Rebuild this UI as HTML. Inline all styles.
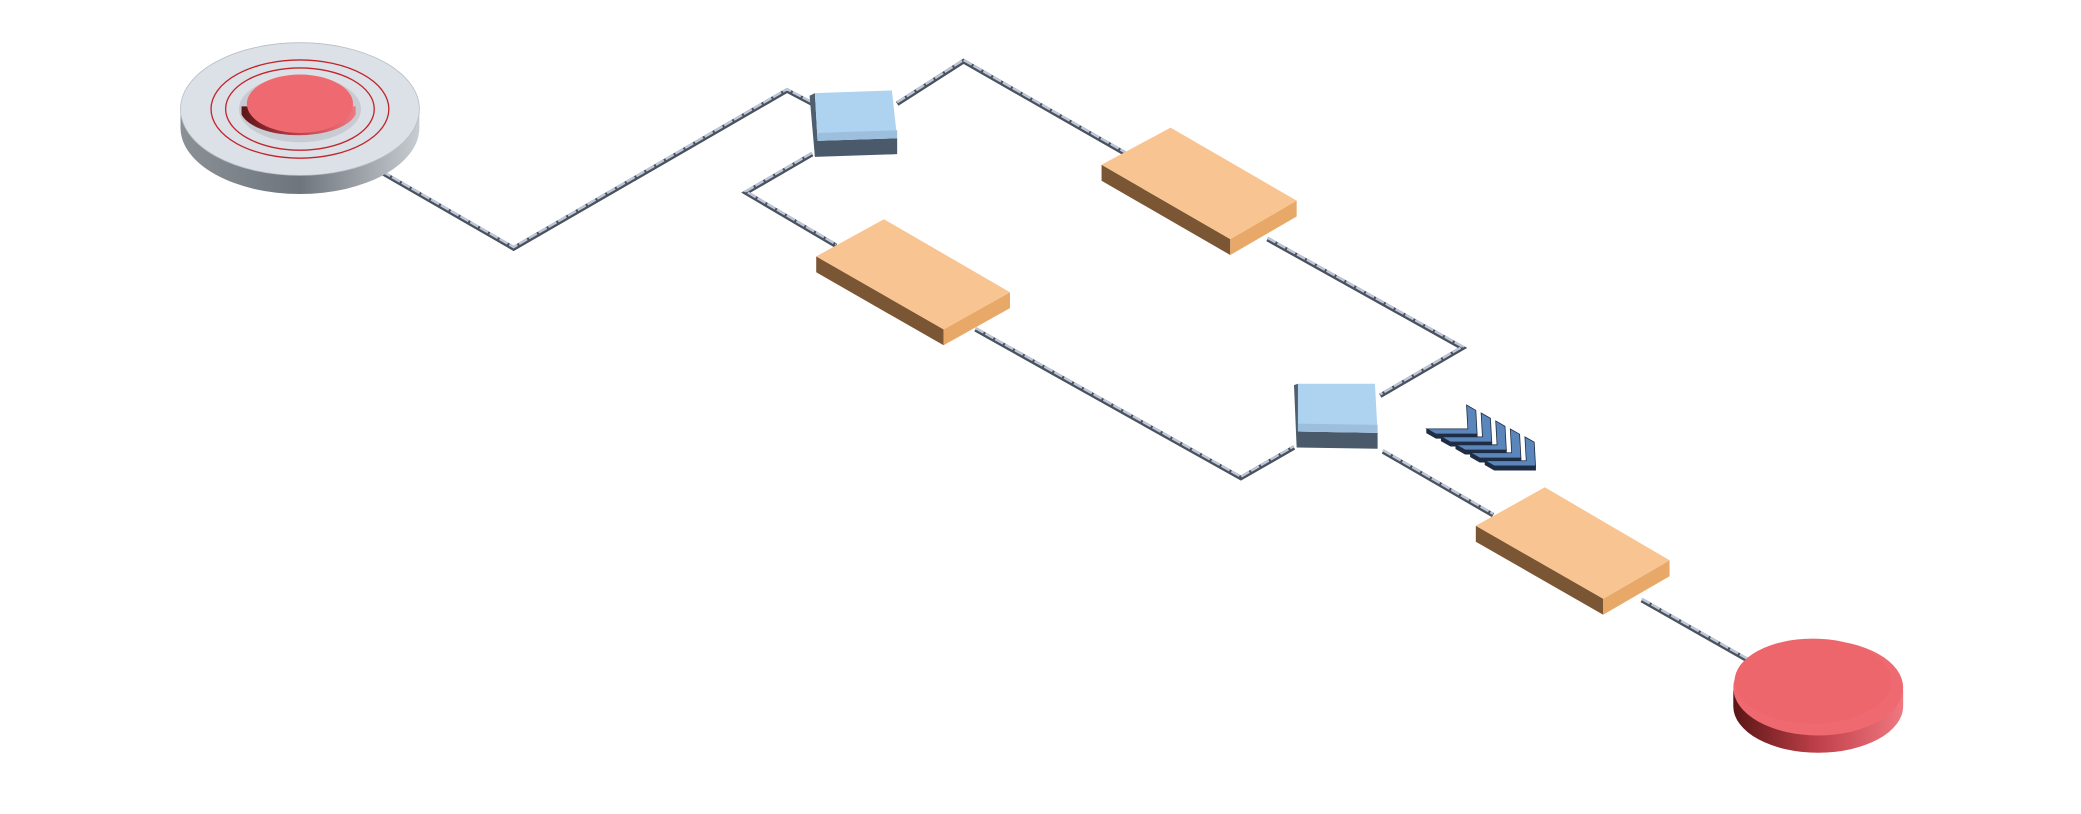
<!DOCTYPE html>
<html><head><meta charset="utf-8"><style>html,body{margin:0;padding:0;background:#fff;width:2081px;height:814px;overflow:hidden}</style></head>
<body>
<svg width="2081" height="814" viewBox="0 0 1568 613" xmlns="http://www.w3.org/2000/svg">
<defs>
<linearGradient id="gside" x1="0" x2="1"><stop offset="0" stop-color="#8a9096"/><stop offset="0.5" stop-color="#6e757c"/><stop offset="1" stop-color="#c8cdd2"/></linearGradient>
<linearGradient id="rside" x1="0" x2="1"><stop offset="0" stop-color="#5a1515"/><stop offset="0.5" stop-color="#c0404a"/><stop offset="1" stop-color="#f07880"/></linearGradient>
</defs>
<g fill="none" stroke-linejoin="miter">
<g stroke="#4a525e" stroke-width="3.5">
<polyline points="288,130 387,187 593,68 612,78"/>
<polyline points="676,78 726,46 852,118"/>
<polyline points="612,116 562,145 630,185"/>
<polyline points="735,248 935,360 975,337"/>
<polyline points="955,180 1102,262 1040,298"/>
<polyline points="1042,340 1125,388"/>
<polyline points="1237,452 1318,498"/>
</g>
<g stroke="#bcc6d8" stroke-width="1.8" stroke-dasharray="7 1.5">
<polyline points="288,129 387,186 593,67 612,77"/>
<polyline points="676,77 726,45 852,117"/>
<polyline points="612,115 562,144 630,184"/>
<polyline points="735,247 935,359 975,336"/>
<polyline points="955,179 1102,261 1040,297"/>
<polyline points="1042,339 1125,387"/>
<polyline points="1237,451 1318,497"/>
</g>
</g>
<!-- start event -->
<path d="M136,82 L136,96 A90,50 0 0 0 316,96 L316,82 Z" fill="url(#gside)"/>
<ellipse cx="226" cy="82" rx="90" ry="50" fill="#dce1e7" stroke="#b8bec5" stroke-width="0.6"/>
<ellipse cx="226" cy="82" rx="67" ry="37" fill="none" stroke="#c0262c" stroke-width="1"/>
<ellipse cx="226" cy="82" rx="56" ry="31" fill="none" stroke="#c0262c" stroke-width="1"/>
<ellipse cx="226" cy="82" rx="46" ry="25" fill="#c8ccd2"/>
<path d="M182,80 L182,86 A44,20 0 0 0 268,86 L268,80 Z" fill="url(#rside)"/>
<ellipse cx="226" cy="78" rx="40" ry="22" fill="#ee6a70"/>
<!-- gateway 1 -->
<polygon points="610,72 614,70 616,106 614,118" fill="#4e5f70"/>
<polygon points="614,106 676,104 676,116 614,118" fill="#4a5a6a"/>
<polygon points="614,70 672,68 676,104 616,106" fill="#aed3f0"/>
<polygon points="616,100 676,98 676,104 616,106" fill="#9bbfdc"/>
<!-- gateway 2 -->
<polygon points="975,290 978,289 978,325 977,337" fill="#4e5f70"/>
<polygon points="977,325 1038,326 1038,338 977,337" fill="#4a5a6a"/>
<polygon points="978,289 1036,289 1038,326 978,325" fill="#aed3f0"/>
<polygon points="978,319 1038,320 1038,326 978,325" fill="#9bbfdc"/>
<!-- tasks -->
<g id="t">
</g>
<g>
<polygon points="830,124 927,180 927,192 830,136" fill="#7a5634"/>
<polygon points="927,180 977,151 977,163 927,192" fill="#e8a868"/>
<polygon points="830,124 882,96 977,151 927,180" fill="#f8c592"/>
</g>
<g>
<polygon points="615,193 711,248 711,260 615,205" fill="#7a5634"/>
<polygon points="711,248 761,220 761,232 711,260" fill="#e8a868"/>
<polygon points="615,193 666,165 761,220 711,248" fill="#f8c592"/>
</g>
<g>
<polygon points="1112,396 1208,451 1208,463 1112,408" fill="#7a5634"/>
<polygon points="1208,451 1258,422 1258,434 1208,463" fill="#e8a868"/>
<polygon points="1112,396 1164,367 1258,422 1208,451" fill="#f8c592"/>
</g>
<!-- chevrons -->
<g fill="#5b86bb" stroke="#1e2d44" stroke-width="0.6">
<g id="ch"><polygon points="1075,323 1106,323 1105,305 1112,309 1113,327 1082,327"/><polygon points="1075,323 1082,327 1113,327 1113,330 1082,330 1075,326" fill="#1e2d44"/></g>
<use href="#ch" transform="translate(11,6)"/>
<use href="#ch" transform="translate(22,12)"/>
<use href="#ch" transform="translate(33,18)"/>
<use href="#ch" transform="translate(44,24)"/>
</g>
<!-- end event -->
<path d="M1306,520 L1306,532 A64,35 0 0 0 1434,532 L1434,520 Z" fill="url(#rside)"/>
<ellipse cx="1370" cy="518" rx="64" ry="36" fill="#ee6a70"/>
<ellipse cx="1366" cy="513" rx="59" ry="32" fill="#ec666c"/>
</svg>
</body></html>
